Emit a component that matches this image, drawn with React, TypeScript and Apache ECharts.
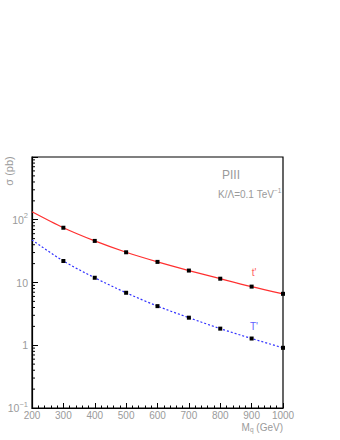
import React, { useEffect, useRef } from "react";
import * as echarts from "echarts";

const masses = [200, 300, 400, 500, 600, 700, 800, 900, 1000];
const sigmaTprime = [134, 74.6, 46, 30.3, 21.3, 15.5, 11.5, 8.6, 6.6];
const sigmaTbar = [47.7, 22, 11.9, 6.86, 4.2, 2.75, 1.84, 1.28, 0.91];
const yDecades = [0.1, 1, 10, 100, 1000];

const GRAY = "#9a9a9a";
const FONT = "Liberation Sans";

function minorValues(): number[] {
  const out: number[] = [];
  for (let d = 0; d < yDecades.length - 1; d++) {
    for (let k = 2; k <= 9; k++) out.push(yDecades[d] * k);
  }
  return out;
}

export default function App() {
  const ref = useRef<HTMLDivElement>(null);
  useEffect(() => {
    if (!ref.current) return;
    const chart = echarts.init(ref.current, null, { renderer: "svg" });
    const yMinor = minorValues();
    const yLabel = (v: number) => {
      const r = Math.round(Math.log10(v));
      if (r === -1) return "10{sup|−1}";
      if (r === 0) return "1";
      if (r === 1) return "10";
      if (r === 2) return "10{sup|2}";
      return "";
    };
    const symbolFor = (i: number) => (i === 0 ? "none" : "rect");
    chart.setOption({
      animation: false,
      grid: { left: 32, right: 57, top: 157, bottom: 32, show: true, borderColor: "#000", borderWidth: 1.2, backgroundColor: "transparent" },
      xAxis: {
        type: "value",
        min: 200,
        max: 1000,
        interval: 100,
        axisLine: { show: true, lineStyle: { color: "#000", width: 1.2 } },
        axisTick: { show: true, inside: true, length: 5, lineStyle: { color: "#000" } },
        minorTick: { show: true, splitNumber: 5, length: 2.5, lineStyle: { color: "#000" } },
        splitLine: { show: false },
        axisLabel: { color: GRAY, fontFamily: FONT, fontSize: 10, lineHeight: 10, margin: 2, formatter: (v: number) => String(v) },
      },
      yAxis: {
        type: "log",
        logBase: 10,
        min: 0.1,
        max: 1000,
        axisLine: { show: true, lineStyle: { color: "#000", width: 1.2 } },
        axisTick: { show: true, inside: true, length: 6, lineStyle: { color: "#000" } },
        splitLine: { show: false },
        axisLabel: {
          color: GRAY,
          fontFamily: FONT,
          fontSize: 10.5,
          margin: 4,
          formatter: yLabel,
          rich: { sup: { fontSize: 7.5, verticalAlign: "top", color: GRAY, fontFamily: FONT, padding: [0, 0, 8, 0] } },
        },
      },
      series: [
        {
          type: "custom",
          silent: true,
          data: yMinor.map((v) => [200, v]),
          renderItem: (params: any, api: any) => {
            const p = api.coord([200, api.value(1)]);
            return {
              type: "line",
              shape: { x1: p[0], y1: p[1], x2: p[0] + 3, y2: p[1] },
              style: { stroke: "#000", lineWidth: 1 },
            };
          },
          z: 5,
        },
        {
          type: "line",
          data: masses.map((m, i) => ({ value: [m, sigmaTprime[i]], symbol: symbolFor(i) })),
          smooth: 0.3,
          symbol: "rect",
          symbolSize: 4,
          itemStyle: { color: "#000" },
          lineStyle: { color: "#ff3030", width: 1.2, type: "solid" },
          z: 3,
        },
        {
          type: "line",
          data: masses.map((m, i) => ({ value: [m, sigmaTbar[i]], symbol: symbolFor(i) })),
          smooth: 0.3,
          symbol: "rect",
          symbolSize: 4,
          itemStyle: { color: "#000" },
          lineStyle: { color: "#3030ff", width: 1.2, type: [2, 2] },
          z: 3,
        },
      ],
      graphic: [
        {
          type: "text",
          x: 9,
          y: 171,
          rotation: Math.PI / 2,
          style: { text: "σ (pb)", fill: GRAY, font: `11px ${FONT}`, align: "center", verticalAlign: "middle" },
        },
        {
          type: "text",
          x: 283,
          y: 421,
          style: {
            text: "M{sub|q} (GeV)",
            fill: GRAY,
            font: `10px ${FONT}`,
            align: "right",
            verticalAlign: "top",
            rich: { sub: { fontSize: 6.5, fill: GRAY, fontFamily: FONT, verticalAlign: "bottom", padding: [5, 0, 0, 0] } },
          },
        },
        {
          type: "text",
          x: 231,
          y: 175,
          style: { text: "PIII", fill: GRAY, font: `12px ${FONT}`, align: "center", verticalAlign: "middle" },
        },
        {
          type: "text",
          x: 218,
          y: 194,
          style: {
            text: "K/Λ=0.1 TeV{sup|−1}",
            fill: GRAY,
            font: `10px ${FONT}`,
            align: "left",
            verticalAlign: "middle",
            rich: { sup: { fontSize: 6.5, fill: GRAY, fontFamily: FONT, padding: [0, 0, 7, 0] } },
          },
        },
        {
          type: "text",
          x: 254,
          y: 272,
          style: { text: "t'", fill: "#ff6060", font: `10px ${FONT}`, align: "center", verticalAlign: "middle" },
        },
        {
          type: "text",
          x: 254,
          y: 326,
          style: { text: "T'", fill: "#6060ff", font: `10px ${FONT}`, align: "center", verticalAlign: "middle" },
        },
      ],
    });
    return () => chart.dispose();
  }, []);
  return <div ref={ref} style={{ position: "absolute", left: 0, top: 0, width: 340, height: 440 }} />;
}
